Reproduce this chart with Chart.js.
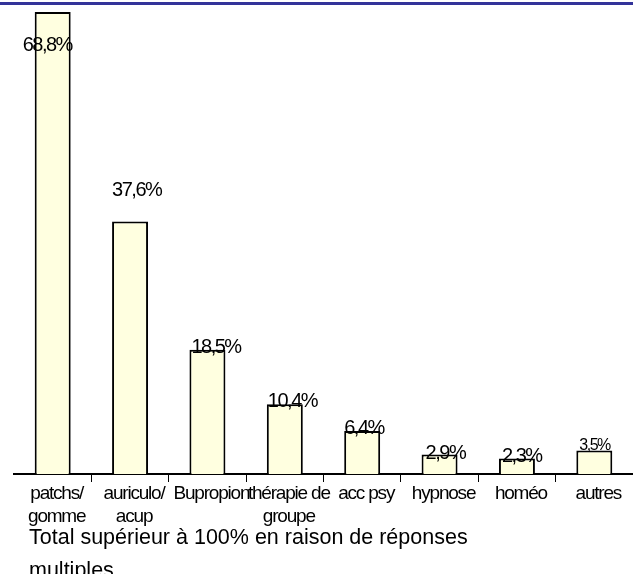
<!DOCTYPE html>
<html>
<head>
<meta charset="utf-8">
<title>Aides au sevrage tabagique</title>
<script src="https://cdn.jsdelivr.net/npm/chart.js@4.4.1/dist/chart.umd.min.js"></script>
<style>
  html, body { margin: 0; padding: 0; background: #ffffff; }
  #wrap { position: relative; width: 633px; height: 574px; overflow: hidden; }
  #chart { position: absolute; left: 0; top: 0; }
  #rule { position: absolute; left: 0; top: 2px; width: 633px; height: 3px; background: #333399; }
  #note {
    position: absolute; left: 29px; top: 521px; width: 515px;
    font-family: "Liberation Sans", Arial, sans-serif; font-size: 21.5px; line-height: 33px; color: #000;
  }
</style>
</head>
<body>
<div id="wrap">
  <canvas id="chart" width="633" height="574"></canvas>
  <div id="rule"></div>
  <div id="note">Total supérieur à 100% en raison de réponses multiples</div>
</div>
<script>
// Methods used to quit smoking (% of respondents, multiple answers allowed)
const categories = [
  ['patchs/', 'gomme'],
  ['auriculo/', 'acup'],
  ['Bupropion'],
  ['thérapie de', 'groupe'],
  ['acc psy'],
  ['hypnose'],
  ['homéo'],
  ['autres']
];
const shares = [68.8, 37.6, 18.5, 10.4, 6.4, 2.9, 2.3, 3.5];

// Placement of the value labels relative to each bar's top-left corner
const labelDx = [-12, 0, 2, 1, 0, 4, 3, 3];
const labelDy = [33, -31, -2, -3, -3, -1, -2, -5];
const labelSize = [20, 20, 20, 20, 20, 20, 20, 16];

const FONT = '"Liberation Sans", Arial, sans-serif';
const formatShare = v => v.toFixed(1).replace('.', ',') + '%';

// Tight tracking for the axis text, normal tracking for everything drawn after it
const trackingPlugin = {
  id: 'tracking',
  beforeDraw(chart) { chart.ctx.letterSpacing = '-1.2px'; },
  beforeDatasetsDraw(chart) { chart.ctx.letterSpacing = '0px'; }
};

const valueLabelPlugin = {
  id: 'valueLabels',
  afterDatasetsDraw(chart) {
    const ctx = chart.ctx;
    const bars = chart.getDatasetMeta(0).data;
    ctx.save();
    ctx.letterSpacing = '-1.5px';
    ctx.fillStyle = '#000000';
    ctx.textAlign = 'left';
    ctx.textBaseline = 'middle';
    bars.forEach((bar, i) => {
      const left = bar.x - bar.width / 2;
      ctx.font = labelSize[i] + 'px ' + FONT;
      ctx.fillText(formatShare(shares[i]), left + labelDx[i], bar.y + labelDy[i]);
    });
    ctx.restore();
  }
};

new Chart(document.getElementById('chart'), {
  type: 'bar',
  data: {
    labels: categories,
    datasets: [{
      data: shares,
      backgroundColor: '#ffffe0',
      borderColor: '#000000',
      borderWidth: 2,
      borderSkipped: 'start',
      categoryPercentage: 1,
      barPercentage: 0.465
    }]
  },
  options: {
    responsive: false,
    animation: false,
    devicePixelRatio: 1,
    layout: { padding: { left: 14, right: 0, top: 12, bottom: 0 } },
    plugins: {
      legend: { display: false },
      tooltip: { enabled: false },
      title: { display: false }
    },
    scales: {
      y: {
        display: false,
        min: 0,
        max: Math.max(...shares)
      },
      x: {
        offset: true,
        grid: {
          offset: true,
          drawOnChartArea: false,
          tickLength: 8,
          tickWidth: 1,
          tickColor: c => (c.type !== 'tick' || c.index === 0) ? 'rgba(0,0,0,0)' : '#000000'
        },
        border: { display: true, color: '#000000', width: 2 },
        ticks: {
          color: '#000000',
          font: { family: FONT, size: 19, lineHeight: 23 / 19 },
          padding: 0,
          labelOffset: 4,
          maxRotation: 0,
          minRotation: 0,
          autoSkip: false
        },
        afterFit(scale) { scale.height = 100; }
      }
    }
  },
  plugins: [trackingPlugin, valueLabelPlugin]
});
</script>
</body>
</html>
